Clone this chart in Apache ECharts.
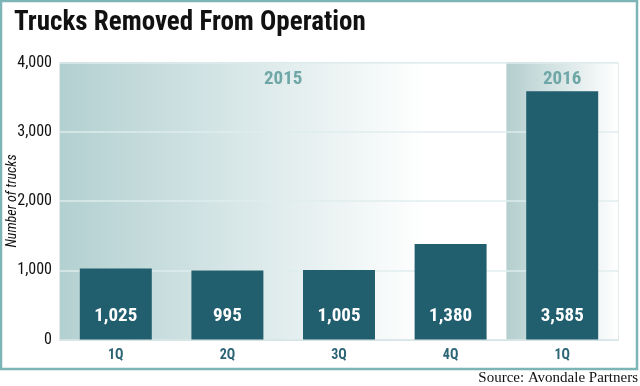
<!DOCTYPE html>
<html>
<head>
<meta charset="utf-8">
<script src="https://cdn.jsdelivr.net/npm/echarts@6/dist/echarts.min.js"></script>
<style>
html,body{margin:0;padding:0;background:#fff;}
#c{width:640px;height:386px;}
</style>
</head>
<body>
<div id="c"></div>
<script>
const categories = ['1Q', '2Q', '3Q', '4Q', '1Q '];
const trucksRemoved = [1025, 995, 1005, 1380, 3585];
const yearBands = [
  { name: '2015', from: 0, to: 4 },
  { name: '2016', from: 4, to: 5 }
];
const yTicks = [0, 1000, 2000, 3000, 4000];

const FAM = 'Roboto, "Open Sans", sans-serif';
const chart = echarts.init(document.getElementById('c'), null, { renderer: 'canvas' });

const bandStyles = {
  '2015': ['#b3d0d1', '#ffffff', 0.82],
  '2016': ['#b4cece', '#ffffff', 1]
};

const option = {
  animation: false,
  backgroundColor: '#ffffff',
  title: {
    text: 'Trucks Removed From Operation',
    left: 14, top: 10, padding: 0,
    textStyle: { fontFamily: FAM, fontWeight: 'bold condensed', fontSize: 27, color: '#111' }
  },
  graphic: [
    { type: 'rect', shape: { x: 1, y: 1, width: 636, height: 368 }, style: { fill: 'none', stroke: '#7db4b6', lineWidth: 2.5 }, z: 10 },
    { type: 'text', right: 2, top: 371, style: { text: 'Source: Avondale Partners', font: '15px "Liberation Serif", "DejaVu Serif", serif', fill: '#111' } }
  ],
  grid: { left: 60, right: 22, top: 62.5, bottom: 46.5, outerBoundsMode: 'none', containLabel: false, show: true, borderColor: '#ccd5d6', borderWidth: 1, backgroundColor: 'transparent' },
  xAxis: [
    {
      type: 'category', data: categories,
      axisLine: { show: true, lineStyle: { color: '#b8c4c6', width: 1.5 } },
      axisTick: { show: false },
      axisLabel: { color: '#2b6475', fontFamily: FAM, fontWeight: 'bold condensed', fontSize: 14, margin: 9, formatter: v => v.trim() }
    },
    { type: 'value', min: 0, max: 5, show: false }
  ],
  yAxis: {
    type: 'value', min: yTicks[0], max: yTicks[yTicks.length - 1], interval: yTicks[1] - yTicks[0], z: 1.5,
    name: 'Number of trucks', nameLocation: 'middle', nameGap: 41, nameRotate: 90, nameMoveOverlap: false,
    nameTextStyle: { fontFamily: FAM, fontStyle: 'italic', fontWeight: 'condensed', fontSize: 14, color: '#111' },
    axisLine: { show: false }, axisTick: { show: false },
    axisLabel: { color: '#111', fontFamily: FAM, fontWeight: 'condensed', fontSize: 16, margin: 8, formatter: v => v.toLocaleString('en-US') },
    splitLine: { show: true, lineStyle: { color: 'rgba(222,236,237,0.95)', width: 1.5 } }
  },
  series: [
    {
      type: 'line', xAxisIndex: 1, data: [], z: 1, silent: true,
      markArea: {
        silent: true,
        data: yearBands.map(b => [
          {
            xAxis: b.from, yAxis: yTicks[yTicks.length - 1], name: b.name,
            itemStyle: {
              color: new echarts.graphic.LinearGradient(0, 0, 1, 0, [
                { offset: 0, color: bandStyles[b.name][0] },
                { offset: bandStyles[b.name][2], color: bandStyles[b.name][1] },
                { offset: 1, color: '#ffffff' }
              ])
            }
          },
          { xAxis: b.to, yAxis: 0 }
        ]),
        label: { show: true, position: 'insideTop', distance: 7, color: '#6fa6a6', fontFamily: FAM, fontWeight: 'bold condensed', fontSize: 19 }
      }
    },
    {
      type: 'bar', data: trucksRemoved, z: 3, barWidth: '64.5%',
      itemStyle: { color: '#215e6e' },
      label: {
        show: true, position: 'insideBottom', distance: 14,
        color: '#ffffff', fontFamily: FAM, fontWeight: 'bold condensed', fontSize: 19,
        formatter: p => p.value.toLocaleString('en-US')
      }
    }
  ]
};
chart.setOption(option);
</script>
</body>
</html>
